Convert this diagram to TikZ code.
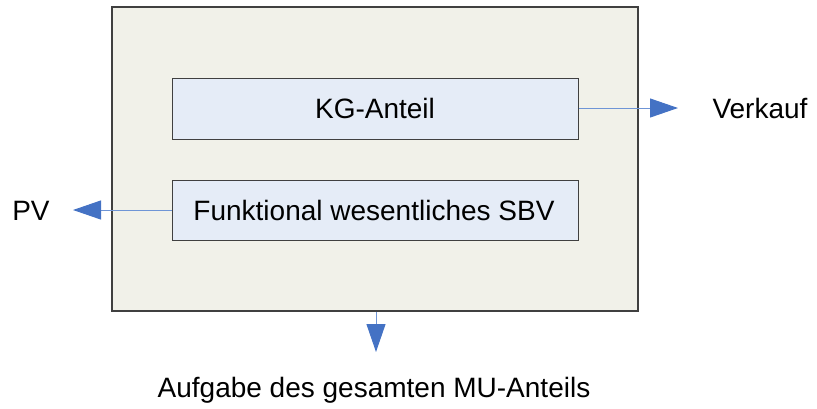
\documentclass[tikz,border=0pt]{standalone}
\usepackage{fontspec}
\setmainfont{Liberation Sans}
\usetikzlibrary{arrows.meta}
\definecolor{framefill}{HTML}{F1F1E9}
\definecolor{boxfill}{HTML}{E5ECF7}
\definecolor{edge}{HTML}{404040}
\definecolor{flow}{HTML}{4472C4}
\definecolor{flowline}{HTML}{6F95D6}
\tikzset{
  frame/.style={draw=edge, line width=1.5pt, fill=framefill, inner sep=0pt},
  part/.style={draw=edge, line width=1pt, fill=boxfill, inner sep=0pt},
  lbl/.style={font=\fontsize{28}{30}\selectfont, inner sep=0pt, anchor=base},
  flowarrow/.style={draw=flowline, line width=1pt,
    -{Triangle[length=28pt,width=19pt,color=flow]}},
}
\begin{document}
\begin{tikzpicture}[x=1pt,y=-1pt]
  \useasboundingbox (0,0) rectangle (817,408);
  % outer frame
  \node[frame, minimum width=526pt, minimum height=304pt] (whole) at (375,159) {};
  % the two parts inside
  \node[part, minimum width=406pt, minimum height=61pt] (kg) at (375,108.5) {};
  \node[part, minimum width=406pt, minimum height=60pt] (sbv) at (375,210) {};
  \node[lbl] (kgtext) at (375,118) {KG-Anteil};
  \node[lbl] (sbvtext) at (374,220) {Funktional wesentliches SBV};
  % outside labels
  \node[lbl] (verkauf) at (760,118) {Verkauf};
  \node[lbl] (pv) at (31,220) {PV};
  \node[lbl] (aufgabe) at (374,397) {Aufgabe des gesamten MU-Anteils};
  % arrow tips
  \coordinate (tipR) at (678,108);
  \coordinate (tipL) at (73,210);
  \coordinate (tipD) at (376,352);
  \draw[flowarrow] (kg.east |- tipR) -- (tipR);
  \draw[flowarrow] (sbv.west |- tipL) -- (tipL);
  \draw[flowarrow] (tipD |- whole.south) -- (tipD);
\end{tikzpicture}
\end{document}
